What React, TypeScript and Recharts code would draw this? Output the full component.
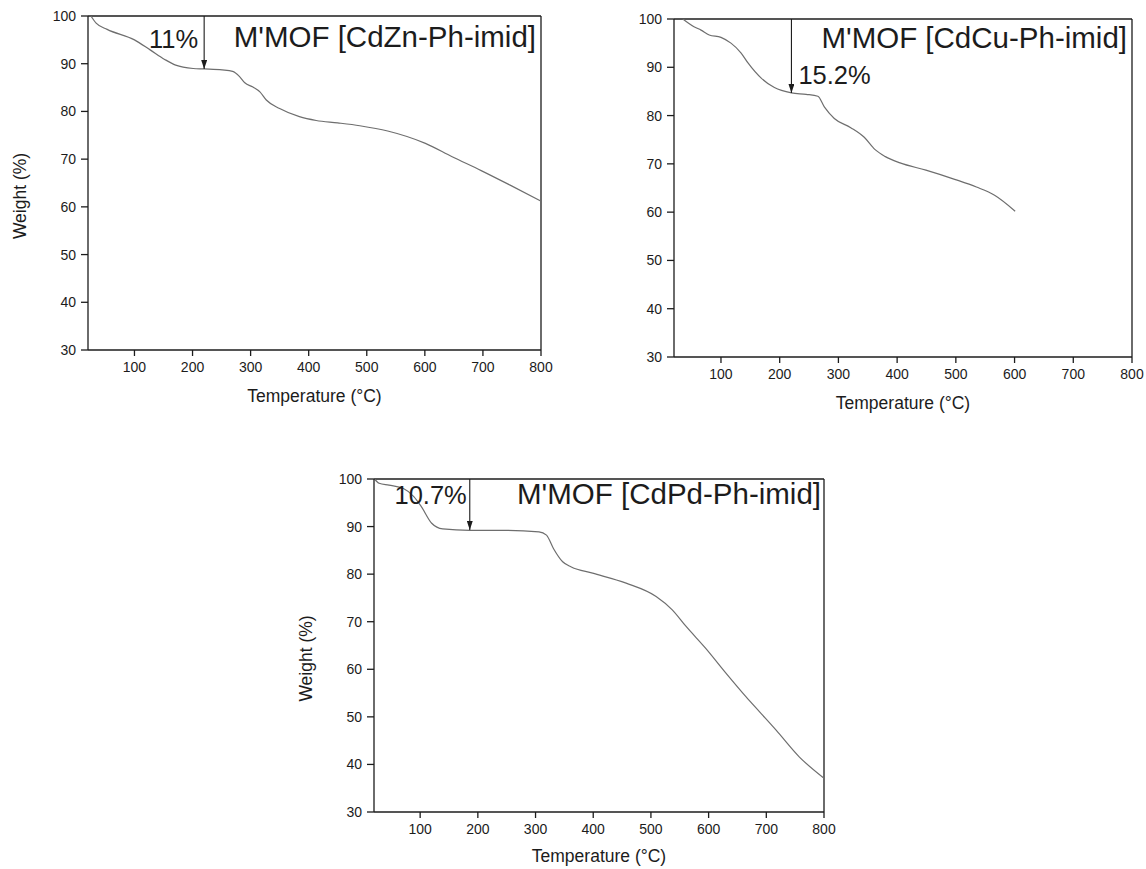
import { LineChart, Line, XAxis, YAxis, ReferenceLine } from 'recharts'

const FONT = '"Liberation Sans", Arial, Helvetica, sans-serif'
const INK = '#1c1c1c'

const tempTicks = [100, 200, 300, 400, 500, 600, 700, 800]
const weightTicks = [30, 40, 50, 60, 70, 80, 90, 100]

// CdZn
const znTemp   = [25, 34, 53, 100, 127, 152, 171, 201, 220, 251, 269, 281, 290, 304, 316, 327, 350, 384, 413, 450, 488, 536, 601, 647, 697, 746, 800]
const znWeight = [100, 98.5, 97.2, 95.0, 92.9, 90.9, 89.7, 89.0, 88.9, 88.7, 88.4, 87.3, 86.0, 85.1, 84.1, 82.4, 80.6, 78.9, 78.1, 77.6, 77.0, 75.9, 73.3, 70.5, 67.6, 64.6, 61.2]

// CdCu
const cuTemp   = [35, 54, 66, 80, 100, 117, 134, 146, 169, 191, 220, 245, 265, 276, 293, 321, 344, 362, 380, 405, 449, 498, 535, 566, 601]
const cuWeight = [100, 98.4, 97.7, 96.7, 96.2, 95.0, 93.0, 90.9, 87.7, 85.8, 84.7, 84.4, 84.0, 81.8, 79.4, 77.5, 75.5, 73.0, 71.5, 70.2, 68.7, 66.8, 65.2, 63.5, 60.2]

// CdPd
const pdTemp   = [21, 29, 46, 71, 89, 102, 120, 139, 186, 244, 306, 319, 331, 347, 362, 399, 457, 509, 537, 561, 595, 630, 665, 688, 717, 757, 800]
const pdWeight = [100, 99.1, 98.7, 98.0, 96.3, 94.2, 90.7, 89.5, 89.2, 89.2, 88.9, 88.2, 85.4, 82.6, 81.5, 80.2, 78.1, 75.3, 72.5, 69.0, 64.4, 59.2, 54.2, 51.1, 47.2, 41.6, 37.1]

const toRows = (t: number[], w: number[]) => t.map((x, i) => ({ t: x, w: w[i] }))

const txt = (value: string, dx: number, dy: number, anchor: 'start' | 'end', size: number, fromRight = false) =>
  (p: any) => {
    const vb = p.viewBox || {}
    const x = (fromRight ? vb.x + vb.width : vb.x) + dx
    return <text x={x} y={vb.y + dy} textAnchor={anchor} fontSize={size} fontFamily={FONT} fill={INK}>{value}</text>
  }

const xTitle = (gap: number) => (p: any) => {
  const vb = p.viewBox
  return <text x={vb.x + vb.width / 2} y={vb.y + gap} textAnchor="middle" fontSize={17.5} fontFamily={FONT} fill={INK}>Temperature (°C)</text>
}
const yTitle = (p: any) => {
  const vb = p.viewBox
  const x = vb.x + vb.width - 68, y = vb.y + vb.height / 2 + 13
  return <text x={x} y={y} transform={`rotate(-90, ${x}, ${y})`} textAnchor="middle" dominantBaseline="central" fontSize={17.5} fontFamily={FONT} fill={INK}>Weight (%)</text>
}

interface PanelProps {
  id: string; left: number; top: number; width: number; height: number
  margin: { top: number; right: number; bottom: number; left: number }
  xHeight: number; xGap: number; showY: boolean
  rows: { t: number; w: number }[]
  arrowT: number; arrowTo: number
  pct: (p: any) => any; title: (p: any) => any
}

function Panel({ id, left, top, width, height, margin, xHeight, xGap, showY, rows, arrowT, arrowTo, pct, title }: PanelProps) {
  const axisLine = { stroke: INK, strokeWidth: 1.3 }
  const tick = { fill: INK, fontSize: 14, fontFamily: FONT }
  return (
    <div style={{ position: 'absolute', left, top }}>
      <LineChart width={width} height={height} data={rows} margin={margin}>
        <defs>
          <marker id={id} viewBox="0 0 9 6" refX={9} refY={3} markerWidth={9} markerHeight={6} markerUnits="userSpaceOnUse" orient="auto">
            <path d="M0,0 L9,3 L0,6 Z" fill={INK} />
          </marker>
        </defs>
        <XAxis type="number" dataKey="t" domain={[20, 800]} ticks={tempTicks} allowDataOverflow
          height={xHeight} tickSize={6} tickMargin={6} axisLine={axisLine} tickLine={axisLine} tick={tick} label={{ content: xTitle(xGap) }} />
        <YAxis type="number" domain={[30, 100]} ticks={weightTicks} allowDataOverflow width={60}
          tickSize={7} tickMargin={5} axisLine={axisLine} tickLine={axisLine} tick={tick}
          label={showY ? { content: yTitle } : undefined} />
        <ReferenceLine y={100} stroke={INK} strokeWidth={1.3} label={{ content: title }} />
        <ReferenceLine x={800} stroke={INK} strokeWidth={1.3} />
        <Line type="monotone" dataKey="w" stroke="#6e6e6e" strokeWidth={1.2} dot={false} isAnimationActive={false} />
        <ReferenceLine segment={[{ x: arrowT, y: 100 }, { x: arrowT, y: arrowTo }]} stroke={INK} strokeWidth={1.1}
          markerEnd={`url(#${id})`} label={{ content: pct }} />
      </LineChart>
    </div>
  )
}

export default function App() {
  return (
    <div style={{ position: 'absolute', left: 0, top: 0, width: 1146, height: 869, background: '#fff' }}>
      <Panel id="arZn" left={0} top={0} width={570} height={420}
        margin={{ top: 16, right: 29, bottom: 10, left: 28 }} xHeight={60} xGap={52} showY
        rows={toRows(znTemp, znWeight)} arrowT={220} arrowTo={88.9}
        pct={txt('11%', -6, 32, 'end', 25.5)} title={txt("M'MOF [CdZn-Ph-imid]", -5, 31, 'end', 29.5, true)} />
      <Panel id="arCu" left={580} top={0} width={566} height={420}
        margin={{ top: 19, right: 14, bottom: 3, left: 34 }} xHeight={60} xGap={52} showY={false}
        rows={toRows(cuTemp, cuWeight)} arrowT={220} arrowTo={84.7}
        pct={txt('15.2%', 7, 65, 'start', 25.5)} title={txt("M'MOF [CdCu-Ph-imid]", -5, 29, 'end', 29.5, true)} />
      <Panel id="arPd" left={290} top={460} width={560} height={409}
        margin={{ top: 19, right: 26, bottom: 0, left: 24 }} xHeight={57} xGap={50} showY
        rows={toRows(pdTemp, pdWeight)} arrowT={186} arrowTo={89.3}
        pct={txt('10.7%', -3, 25, 'end', 25.5)} title={txt("M'MOF [CdPd-Ph-imid]", -3, 25, 'end', 29.5, true)} />
    </div>
  )
}
